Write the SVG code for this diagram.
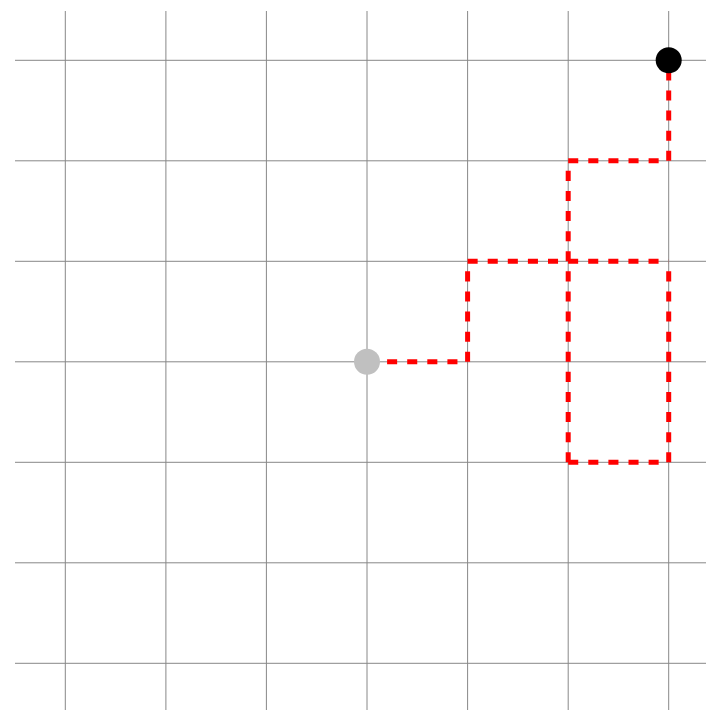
<svg xmlns="http://www.w3.org/2000/svg" width="706" height="710" viewBox="0 0 706 710">
<style>
.grid line{stroke:#888;stroke-width:1}
.route{stroke:#ff0000;stroke-width:5;stroke-dasharray:10.05 10.05;fill:none;stroke-linecap:butt}
</style>
<rect width="706" height="710" fill="#fff"/>
<g id="grid" class="grid">
<line x1="65.3" y1="11" x2="65.3" y2="710"/>
<line x1="165.9" y1="11" x2="165.9" y2="710"/>
<line x1="266.4" y1="11" x2="266.4" y2="710"/>
<line x1="367" y1="11" x2="367" y2="710"/>
<line x1="467.6" y1="11" x2="467.6" y2="710"/>
<line x1="568.2" y1="11" x2="568.2" y2="710"/>
<line x1="668.7" y1="11" x2="668.7" y2="710"/>
<line x1="15" y1="60.3" x2="706" y2="60.3"/>
<line x1="15" y1="160.8" x2="706" y2="160.8"/>
<line x1="15" y1="261.3" x2="706" y2="261.3"/>
<line x1="15" y1="361.8" x2="706" y2="361.8"/>
<line x1="15" y1="462.3" x2="706" y2="462.3"/>
<line x1="15" y1="562.8" x2="706" y2="562.8"/>
<line x1="15" y1="663.3" x2="706" y2="663.3"/>
</g>
<g id="connectors">
<path class="route" d="M367,361.8 H467.6"/>
<path class="route" d="M467.6,361.8 V261.3"/>
<path class="route" d="M467.6,261.3 H668.7"/>
<path class="route" d="M668.7,462.3 V261.3"/>
<path class="route" d="M568.2,462.3 H668.7"/>
<path class="route" d="M568.2,462.3 V160.8"/>
<path class="route" d="M568.2,160.8 H668.7"/>
<path class="route" d="M668.7,160.8 V60.3"/>
</g>
<g id="start">
<circle cx="367" cy="361.8" r="13" fill="#c0c0c0"/>
</g>
<g id="end">
<circle cx="668.7" cy="60.3" r="13" fill="#000"/>
</g>
</svg>
